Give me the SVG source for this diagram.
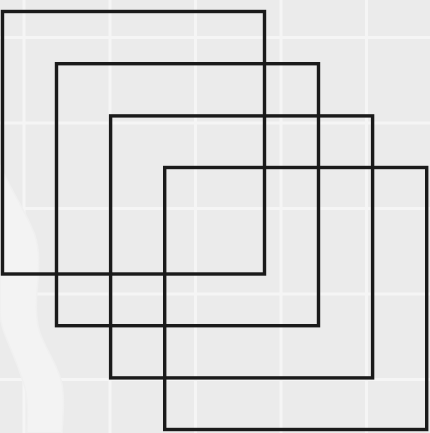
<svg xmlns="http://www.w3.org/2000/svg" width="430" height="433" viewBox="0 0 430 433">
  <style>
    .grid line { stroke: #f5f5f5; stroke-width: 3; }
    .sq { fill: none; stroke: #1a1a1a; stroke-width: 3.4; }
  </style>
  <rect x="0" y="0" width="430" height="433" fill="#ebebeb"/>
  <g class="grid">
    <line x1="24" y1="0" x2="24" y2="433"/>
    <line x1="110" y1="0" x2="110" y2="433"/>
    <line x1="195.5" y1="0" x2="195.5" y2="433"/>
    <line x1="281" y1="0" x2="281" y2="433"/>
    <line x1="366.5" y1="0" x2="366.5" y2="433"/>
    <line x1="0" y1="37.5" x2="430" y2="37.5"/>
    <line x1="0" y1="123" x2="430" y2="123"/>
    <line x1="0" y1="208.5" x2="430" y2="208.5"/>
    <line x1="0" y1="294" x2="430" y2="294"/>
    <line x1="0" y1="379.5" x2="430" y2="379.5"/>
  </g>
  <path d="M0,165 C8,185 22,205 32,228 C40,245 39,262 38,280 C36,300 35,318 40,333 C46,350 56,362 61,380 C65,395 63,415 62,433 L27,433 C27,420 29,405 25,388 C20,370 12,352 5,335 C1,325 0,318 0,310 Z" fill="#f3f3f3" stroke="#f0f0f0" stroke-width="1.5"/>
  <g id="square1"><rect class="sq" x="2.5" y="11.5" width="262" height="262.5"/></g>
  <g id="square2"><rect class="sq" x="56.5" y="63.7" width="262" height="262"/></g>
  <g id="square3"><rect class="sq" x="110.6" y="115.9" width="262" height="262"/></g>
  <g id="square4"><rect class="sq" x="164.7" y="167.5" width="262" height="262"/></g>
  <g id="connectors"></g>
</svg>
